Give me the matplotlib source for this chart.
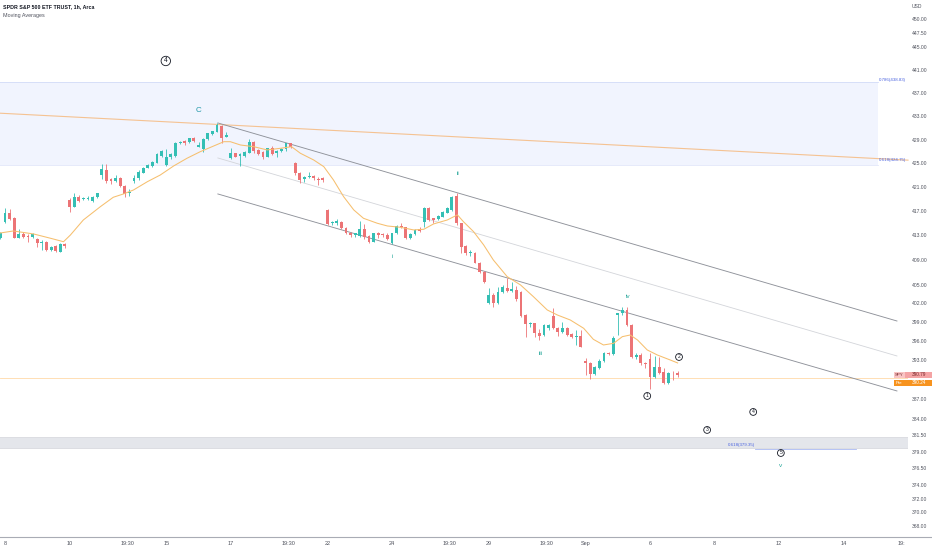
import matplotlib
matplotlib.use("Agg")
import matplotlib.pyplot as plt
from matplotlib.patches import Rectangle
import numpy as np

# SPY 1h candles, one per session hour (first bar = last bar of Aug 5)
opens = [412.51, 415.24, 416.73, 415.80, 412.61, 413.22, 412.94, 412.67, 412.35, 411.79,
         411.90, 410.60, 411.25, 410.32, 411.53, 418.83, 417.72, 419.38, 418.95, 419.00,
         418.71, 419.28, 423.00, 423.85, 422.28, 422.04, 422.55, 421.16, 419.99, 421.99,
         422.45, 423.39, 424.23, 424.52, 425.08, 426.26, 424.69, 425.99, 426.21, 428.36,
         428.75, 428.53, 429.26, 427.78, 427.34, 429.04, 429.95, 430.34, 431.23, 429.48,
         425.82, 426.67, 426.26, 426.21, 426.77, 428.63, 427.23, 426.94, 426.09, 427.51,
         426.67, 427.06, 427.34, 428.36, 425.08, 423.29, 422.28, 422.62, 422.84, 422.38,
         422.45, 417.18, 414.98, 415.08, 415.19, 414.15, 413.43, 413.05, 412.89, 413.99,
         412.89, 411.95, 413.33, 413.17, 413.10, 411.69, 413.33, 414.53, 414.32, 412.51,
         413.22, 413.99, 415.24, 417.46, 415.80, 415.67, 416.06, 416.73, 417.18, 419.41,
         414.98, 411.25, 410.06, 410.16, 408.53, 407.08, 402.10, 403.33, 402.10, 403.86,
         404.41, 404.02, 404.14, 403.86, 400.14, 398.72, 398.83, 397.25, 396.98, 398.04,
         399.99, 398.04, 397.50, 398.13, 397.14, 396.62, 396.82, 392.95, 392.64, 390.88,
         391.77, 392.95, 394.20, 393.99, 400.14, 400.42, 400.94, 398.56, 393.48, 393.84,
         392.64, 393.17, 390.46, 392.02, 391.24, 389.53, 391.09, 391.09]
highs = [413.60, 417.56, 417.29, 415.97, 414.04, 413.60, 413.22, 413.33, 412.51, 412.23,
         412.12, 411.25, 411.42, 411.69, 411.69, 419.11, 419.94, 419.66, 419.38, 419.50,
         419.50, 420.05, 424.86, 424.86, 422.44, 422.95, 422.72, 421.33, 420.61, 423.00,
         423.85, 424.40, 424.86, 425.41, 426.67, 427.23, 427.34, 426.77, 428.63, 428.80,
         428.92, 429.31, 429.38, 428.63, 429.21, 430.17, 430.51, 431.78, 431.40, 430.34,
         427.51, 426.77, 426.67, 427.06, 429.04, 428.80, 427.34, 427.11, 427.61, 427.90,
         427.23, 427.51, 428.46, 428.46, 425.24, 423.56, 422.84, 423.56, 423.00, 422.62,
         422.72, 417.29, 415.40, 415.68, 415.40, 414.32, 413.60, 413.43, 415.40, 414.86,
         413.05, 413.43, 413.50, 413.33, 413.33, 413.43, 414.65, 414.98, 414.42, 413.33,
         413.99, 414.42, 417.62, 417.62, 415.90, 416.30, 417.01, 417.62, 419.50, 419.94,
         415.08, 411.42, 410.60, 410.32, 408.70, 407.24, 404.41, 403.61, 404.66, 404.94,
         406.01, 405.47, 404.78, 404.02, 400.30, 399.08, 398.92, 397.88, 398.72, 398.72,
         401.21, 398.29, 399.08, 398.29, 397.34, 397.77, 397.77, 393.33, 392.80, 392.13,
         393.17, 394.36, 394.36, 396.82, 400.51, 401.46, 401.46, 398.72, 394.11, 394.11,
         392.80, 394.11, 393.69, 393.58, 391.77, 391.24, 391.40, 391.40]
lows = [412.35, 414.98, 415.52, 412.51, 412.51, 412.51, 411.95, 412.51, 411.04, 410.60,
        410.49, 410.49, 410.27, 410.23, 410.88, 416.89, 417.62, 418.45, 418.83, 418.83,
        418.55, 419.16, 422.28, 421.71, 421.49, 421.88, 420.94, 419.28, 419.50, 421.71,
        422.16, 423.29, 424.13, 424.40, 424.97, 426.09, 424.52, 425.65, 426.09, 428.24,
        428.07, 428.41, 428.63, 427.68, 426.94, 428.92, 429.83, 430.24, 428.41, 429.38,
        425.65, 425.99, 424.52, 426.09, 426.67, 426.67, 426.38, 425.65, 425.99, 426.38,
        425.99, 426.94, 427.11, 427.51, 423.00, 421.71, 421.88, 422.45, 422.16, 421.33,
        421.88, 414.70, 414.75, 414.70, 413.99, 413.22, 412.77, 412.67, 412.67, 412.45,
        411.79, 411.86, 412.51, 412.77, 412.23, 411.58, 413.22, 414.15, 412.45, 412.40,
        413.10, 413.60, 414.32, 415.36, 414.98, 415.52, 415.97, 416.63, 417.06, 414.70,
        410.06, 409.78, 409.62, 408.44, 406.92, 405.31, 401.89, 401.46, 401.89, 403.61,
        403.86, 403.86, 402.42, 399.87, 396.62, 398.20, 396.62, 396.19, 396.82, 397.77,
        397.88, 396.82, 397.25, 396.82, 396.46, 395.41, 395.05, 390.73, 390.06, 390.73,
        391.61, 392.80, 393.84, 393.84, 396.98, 400.14, 398.40, 393.33, 393.17, 392.28,
        391.77, 388.52, 390.22, 390.88, 389.33, 389.33, 389.95, 390.46]
closes = [413.43, 416.73, 415.67, 412.61, 413.22, 412.67, 412.77, 413.17, 411.69, 411.95,
          410.60, 411.14, 410.39, 411.58, 411.25, 417.62, 419.28, 418.66, 419.16, 419.16,
          419.28, 419.94, 423.96, 422.04, 421.99, 422.55, 421.16, 419.83, 420.16, 422.55,
          423.46, 424.23, 424.69, 425.24, 426.50, 427.06, 425.99, 426.50, 428.46, 428.63,
          428.36, 429.21, 428.75, 428.07, 429.04, 430.07, 430.41, 431.49, 429.26, 429.78,
          426.67, 426.09, 426.50, 426.94, 428.63, 427.11, 426.55, 425.99, 427.51, 426.55,
          427.11, 427.39, 428.36, 427.78, 423.29, 422.16, 422.72, 422.84, 422.45, 422.16,
          422.16, 414.86, 415.19, 415.36, 414.15, 413.33, 413.05, 413.33, 413.99, 412.67,
          411.95, 413.33, 413.10, 413.00, 412.35, 413.33, 414.53, 414.32, 412.51, 413.22,
          413.88, 413.66, 417.46, 415.52, 415.52, 416.18, 416.89, 417.46, 419.38, 414.94,
          411.14, 410.16, 410.32, 408.53, 407.08, 405.47, 403.33, 402.10, 403.86, 404.57,
          404.02, 404.25, 402.64, 399.99, 398.72, 398.92, 397.25, 396.82, 398.56, 398.56,
          398.04, 397.50, 398.13, 396.98, 396.62, 396.82, 395.14, 392.55, 390.88, 391.92,
          392.95, 394.11, 393.99, 396.46, 400.42, 400.94, 398.56, 393.48, 393.84, 392.55,
          392.44, 390.46, 392.02, 391.09, 389.53, 391.09, 390.99, 390.79]

# moving average at these bar positions
ma_x = [0, 2.8, 7.2, 10.9, 13.7, 15.2, 18, 21.7, 24.5, 26.7, 28.9, 31.9, 34.7, 37.6, 40.5,
        43.4, 46.3, 48.5, 49.9, 52.1, 55, 57.9, 60.8, 63.2, 65.1, 68, 70.2, 72.3, 74.5, 76.7,
        78.8, 81.8, 84, 86.8, 89.7, 91.9, 94, 97, 99.2, 100.5, 102.7, 104.9, 107, 110, 112.9,
        115.7, 118.7, 120.9, 123.7, 126.6, 128.7, 130.9, 133.1, 135, 136.7, 138.3, 140.4,
        142.6, 145.4, 147]
ma_y = [413.38, 413.71, 413.22, 412.51, 411.95, 413.05, 415.52, 417.72, 419.28, 419.83,
        420.50, 421.88, 423.00, 424.52, 425.82, 426.94, 427.90, 428.63, 428.63, 428.07,
        427.78, 427.23, 427.51, 427.78, 426.67, 425.53, 424.40, 422.16, 419.38, 417.18,
        415.80, 414.98, 414.53, 414.32, 413.88, 413.99, 414.86, 415.52, 416.36, 415.24,
        413.60, 411.42, 408.97, 406.28, 404.94, 403.06, 400.94, 400.14, 399.35, 398.04,
        396.30, 395.41, 395.67, 396.72, 396.98, 396.19, 394.63, 393.84, 393.06, 392.60]

# drawings
trend_x = [0, 197]
trend_y = [433.5, 425.5]
chan_x = [47.2, 194.6]
chan_upper = [431.83, 399.19]
chan_mid = [425.87, 393.69]
chan_lower = [419.83, 388.26]
fib_hi, fib_lo = 438.83, 424.75
band_hi, band_lo = 381.2, 379.5
fib_low_level = 379.35
pre_price = 390.24

y_ticks = [450, 447.5, 445, 441, 437, 433, 429, 425, 421, 417, 413, 409, 405, 402, 399,
           396, 393, 387, 384, 381.5, 379, 376.5, 374, 372, 370, 368]
x_ticks = [1, 15, 27.5, 36, 50, 62.5, 71, 85, 97.5, 106, 118.5, 127, 141, 155, 169, 183, 195.5]
x_labels = ["8", "10", "19:30", "15", "17", "19:30", "22", "24", "19:30", "29", "19:30",
            "Sep", "6", "8", "12", "14", "19:"]

UP = "#35bfb4"
DOWN = "#ec7476"
TXT = "#50535e"
plt.rcParams["font.family"] = ["Liberation Sans", "DejaVu Sans"]

W, H = 932, 550
fig = plt.figure(figsize=(W / 100, H / 100), dpi=100)
ax = fig.add_axes([0, 13 / H, 908 / W, 537 / H])
ax.set_yscale("log")
ax.set_xlim(-0.087, 197.0)
ax.set_ylim(366.40, 453.42)

# zones
ax.add_patch(Rectangle((-1, fib_lo), 191.5, fib_hi - fib_lo, facecolor="#f1f4fe",
                       edgecolor="none", zorder=0))
ax.plot([-1, 190.5], [fib_hi, fib_hi], color="#d3dbf8", lw=0.6, zorder=0.5)
ax.plot([-1, 190.5], [fib_lo, fib_lo], color="#e2e7fa", lw=0.6, zorder=0.5)
ax.add_patch(Rectangle((-1, band_lo), 200, band_hi - band_lo, facecolor="#e4e6eb",
                       edgecolor="#d3d5db", lw=0.5, zorder=0))
ax.plot([163.8, 185.7], [fib_low_level, fib_low_level], color="#aab9f2", lw=0.6)
ax.text(163.8, 380.05, "0.618(379.35)", color="#4a63e0", fontsize=3.2,
        ha="right", va="center")
ax.text(196.5, 439.3, "0.786(438.83)", color="#4a63e0", fontsize=3.2, ha="right", va="center")
ax.text(196.5, 425.45, "0.618(424.75)", color="#4a63e0", fontsize=3.2, ha="right", va="center")

ax.axhline(pre_price, color="#ffd9a8", lw=0.6, zorder=0.6)

# trend lines
ax.plot(trend_x, trend_y, color="#f5c292", lw=0.8, clip_on=False, zorder=1)
ax.plot(chan_x, chan_upper, color="#8f929a", lw=0.65, zorder=1)
ax.plot(chan_x, chan_mid, color="#d3d5da", lw=0.6, zorder=1)
ax.plot(chan_x, chan_lower, color="#8f929a", lw=0.65, zorder=1)

# candles
o = np.array(opens)
c = np.array(closes)
idx = np.arange(len(c))
cols = np.where(c >= o, UP, DOWN)
ax.vlines(idx, lows, highs, colors=cols, lw=0.6, zorder=2)
lo = np.minimum(o, c)
hi = np.maximum(o, c)
ax.bar(idx, np.maximum(hi - lo, 0.12), bottom=lo, width=0.62, color=cols, lw=0, zorder=3)

# moving average
ax.plot(ma_x, ma_y, color="#f6bf6e", lw=0.75, zorder=4)

# wave labels
teal = "#26a69a"
ax.text(43.1, 434.05, "C", color="#1f97a8", fontsize=5.8, ha="center", va="center")
ax.text(99.3, 423.17, "ii", color=teal, fontsize=4.6, ha="center", va="center")
ax.text(85, 409.62, "i", color=teal, fontsize=4.6, ha="center", va="center")
ax.text(117.3, 394.15, "iii", color=teal, fontsize=4.6, ha="center", va="center")
ax.text(136.2, 403.17, "iv", color=teal, fontsize=4.6, ha="center", va="center")
ax.text(169.4, 376.87, "v", color=teal, fontsize=4.6, ha="center", va="center")

circ = [(35.9, 442.58, "4", 4.8), (140.4, 387.49, "1", 3.6), (147.3, 393.53, "2", 3.6),
        (153.4, 382.30, "3", 3.6), (163.4, 385.04, "4", 3.6), (169.4, 378.82, "5", 3.6)]
for cx, cy, t, fs in circ:
    ax.text(cx, cy, t, fontsize=fs, ha="center", va="center", color="#131722",
            bbox=dict(boxstyle="circle,pad=0.18", fc="white", ec="#131722", lw=0.6))

# axes
for s in ax.spines.values():
    s.set_visible(False)
ax.minorticks_off()
ax.yaxis.tick_right()
ax.set_yticks(y_ticks)
ax.set_yticklabels([f"{v:.2f}" for v in y_ticks])
ax.tick_params(axis="y", length=0, pad=3, labelsize=3.6, labelcolor=TXT)
ax.set_xticks(x_ticks)
ax.set_xticklabels(x_labels)
ax.tick_params(axis="x", length=0, pad=3, labelsize=4.0, labelcolor=TXT)
fig.add_artist(plt.Line2D([0, 1], [13 / H, 13 / H], color="#a9acb5", lw=0.8))

fig.text(3 / W, 1 - 7 / H, "SPDR S&P 500 ETF TRUST, 1h, Arca", fontsize=3.8,
         color="#131722", fontweight="bold", va="center")
fig.text(3 / W, 1 - 15 / H, "Moving Averages", fontsize=3.9, color=TXT, va="center")
fig.text(912 / W, 1 - 6 / H, "USD", fontsize=3.6, color=TXT, va="center")

# last price tags
fig.canvas.draw()
y_last = ax.transData.transform((0, closes[-1]))[1]
x0, x1, x2 = 894, 905, 932
fig.add_artist(Rectangle((x0 / W, (y_last - 3) / H), (x1 - x0) / W, 6 / H,
                         transform=fig.transFigure, fc="#f9c4c4", ec="none"))
fig.add_artist(Rectangle((x1 / W, (y_last - 3) / H), (x2 - x1) / W, 6 / H,
                         transform=fig.transFigure, fc="#f4a3a4", ec="none"))
fig.text((x0 + 5.5) / W, y_last / H, "SPY", fontsize=3.2, color="#7a2b2e",
         ha="center", va="center")
fig.text((x1 + 13.5) / W, y_last / H, f"{closes[-1]:.2f}", fontsize=3.4, color="#7a2b2e",
         ha="center", va="center")
y_pre = y_last - 8
fig.add_artist(Rectangle((x0 / W, (y_pre - 3) / H), (x2 - x0) / W, 6 / H,
                         transform=fig.transFigure, fc="#f7931e", ec="none"))
fig.text((x0 + 5.5) / W, y_pre / H, "Pre", fontsize=3.2, color="white",
         ha="center", va="center")
fig.text((x1 + 13.5) / W, y_pre / H, f"{pre_price:.2f}", fontsize=3.4, color="white",
         ha="center", va="center")

fig.savefig("out.png", dpi=100)
